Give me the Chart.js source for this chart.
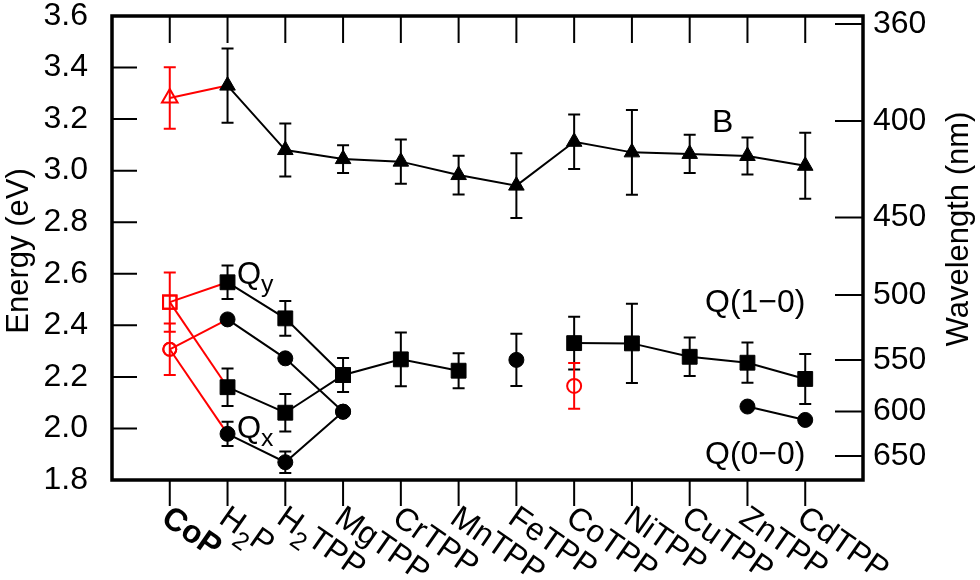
<!DOCTYPE html>
<html>
<head>
<meta charset="utf-8">
<script src="https://cdn.jsdelivr.net/npm/chart.js@4.4.1/dist/chart.umd.min.js"></script>
<style>
html,body{margin:0;padding:0;background:#fff;}
#wrap{width:980px;height:580px;}
</style>
</head>
<body>
<div id="wrap"><canvas id="chart"></canvas></div>
<script>
// categories along x ("_" marks a subscript)
const categories=["CoP","H_2P","H_2TPP","MgTPP","CrTPP","MnTPP","FeTPP","CoTPP","NiTPP","CuTPP","ZnTPP","CdTPP"];

// B band (triangles)
const bBand=[null,3.33,3.08,3.045,3.035,2.983,2.942,3.112,3.071,3.065,3.057,3.019];
const bErr =[null,0.144,0.103,0.054,0.086,0.075,0.126,0.106,0.164,0.074,0.072,0.128];

// Qy(1-0) / Q(1-0) squares
const qy10   =[null,2.567,2.427,2.207,2.268,2.224,null,2.331,2.330,2.278,2.255,2.192];
const qy10Err=[null,0.065,0.067,0.066,0.104,0.068,null,0.102,0.154,0.075,0.078,0.097];

// Qy(0-0) / Q(0-0) circles
const qy00   =[null,2.423,2.272,2.065,null,null,2.266,null,null,null,2.085,2.033];
const qy00Err=[null,0,0,0,null,null,0.101,null,null,null,0,0];

// Qx(1-0) squares and Qx(0-0) circles (free bases)
const qx10   =[null,2.160,2.061,2.207];
const qx10Err=[null,0.073,0.073,0];
const qx00   =[null,1.979,1.869,2.065];
const qx00Err=[null,0.047,0.042,0];

// CoP (red, open): B, Q(1-0), Q(0-0)
const copLevels=[3.282,2.49,2.307];
const copErr   =[0.119,0.115,0.10];
// CoTPP extra red point
const coTppRed=[2.165];
const coTppRedErr=[0.089];

// right axis: wavelength labels and where they sit on the energy scale
const nmTicks=[360,400,450,500,550,600,650];
const nmTickEnergy=[3.569,3.193,2.818,2.518,2.266,2.066,1.893];

const RED="#ff0000";
const FONT='"Liberation Sans", Arial, Helvetica, sans-serif';

const pts=arr=>arr.map((v,i)=>({x:i,y:v}));

function series(data,style,r){
  return {data:pts(data),borderColor:"#000",borderWidth:2,pointStyle:style,pointRadius:r,
    pointBackgroundColor:"#000",pointBorderColor:"#000",pointBorderWidth:1,spanGaps:false};
}
function redLink(idx,target,style,r){
  return {data:[{x:0,y:copLevels[idx]},{x:1,y:target}],borderColor:RED,borderWidth:2,
    pointStyle:style,pointRadius:[r,0],pointBackgroundColor:"rgba(0,0,0,0)",
    pointBorderColor:RED,pointBorderWidth:2};
}

const errSets=[
  {vals:bBand,errs:bErr,color:"#000"},
  {vals:qy10,errs:qy10Err,color:"#000"},
  {vals:qy00,errs:qy00Err,color:"#000"},
  {vals:qx10,errs:qx10Err,color:"#000"},
  {vals:qx00,errs:qx00Err,color:"#000"},
  {vals:copLevels,errs:copErr,color:RED,x:[0,0,0]},
  {vals:coTppRed,errs:coTppRedErr,color:RED,x:[7]}
];

function parseRich(s){
  const out=[];const re=/_(.)/g;let last=0,m;
  while((m=re.exec(s))){
    if(m.index>last) out.push({t:s.slice(last,m.index)});
    out.push({t:m[1],sub:true});last=re.lastIndex;
  }
  if(last<s.length) out.push({t:s.slice(last)});
  return out;
}
function drawRich(ctx,s,x,y,size,weight,subScale,subDy){
  let cx=x;
  parseRich(s).forEach(p=>{
    const sz=p.sub?size*subScale:size;
    ctx.font=(weight||"normal")+" "+sz+"px "+FONT;
    ctx.fillText(p.t,cx,y+(p.sub?size*subDy:0));
    cx+=ctx.measureText(p.t).width;
  });
}

const errorBars={
  id:"errorBars",
  beforeDatasetsDraw(chart){
    const ctx=chart.ctx,xs=chart.scales.x,ys=chart.scales.y;
    ctx.save();ctx.lineWidth=2;
    errSets.forEach(set=>{
      ctx.strokeStyle=set.color;
      set.vals.forEach((v,i)=>{
        const e=set.errs[i];
        if(v==null||!e) return;
        const px=xs.getPixelForValue(set.x?set.x[i]:i);
        const t=ys.getPixelForValue(v+e),b=ys.getPixelForValue(v-e);
        ctx.beginPath();
        ctx.moveTo(px,t);ctx.lineTo(px,b);
        ctx.moveTo(px-6,t);ctx.lineTo(px+6,t);
        ctx.moveTo(px-6,b);ctx.lineTo(px+6,b);
        ctx.stroke();
      });
    });
    ctx.restore();
  }
};

const frame={
  id:"frame",
  afterDraw(chart){
    const ctx=chart.ctx,a=chart.chartArea;
    const xs=chart.scales.x,ys=chart.scales.y,y2=chart.scales.y2;
    ctx.save();
    ctx.strokeStyle="#000";ctx.fillStyle="#000";
    // inward / outward ticks
    ctx.lineWidth=2;ctx.beginPath();
    categories.forEach((c,i)=>{
      const px=xs.getPixelForValue(i);
      ctx.moveTo(px,a.top);ctx.lineTo(px,a.top+27);
      ctx.moveTo(px,a.bottom);ctx.lineTo(px,a.bottom+26);
    });
    ys.ticks.forEach(t=>{const py=ys.getPixelForValue(t.value);ctx.moveTo(a.left,py);ctx.lineTo(a.left+25,py);});
    y2.ticks.forEach(t=>{const py=y2.getPixelForValue(t.value);ctx.moveTo(a.right-28,py);ctx.lineTo(a.right,py);});
    ctx.stroke();
    // box
    ctx.lineWidth=3.5;
    ctx.strokeRect(a.left,a.top,a.right-a.left,a.bottom-a.top);

    // x category labels, rotated clockwise
    ctx.textAlign="left";ctx.textBaseline="alphabetic";
    categories.forEach((c,i)=>{
      const px=xs.getPixelForValue(i);
      ctx.save();
      ctx.translate(px-10,a.bottom+42);
      ctx.rotate(35*Math.PI/180);
      drawRich(ctx,c,0,0,32,i===0?"bold":"normal",0.78,0.32);
      ctx.restore();
    });

    // axis titles
    ctx.font="31px "+FONT;ctx.textAlign="center";ctx.textBaseline="middle";
    ctx.save();ctx.translate(19,251);ctx.rotate(-Math.PI/2);ctx.fillText("Energy (eV)",0,0);ctx.restore();
    ctx.save();ctx.translate(959,229);ctx.rotate(-Math.PI/2);ctx.fillText("Wavelength (nm)",0,0);ctx.restore();

    // band annotations
    ctx.textAlign="left";ctx.textBaseline="alphabetic";
    ctx.font="32px "+FONT;
    ctx.fillText("B",712,132);
    ctx.fillText("Q(1\u22120)",705,312);
    ctx.fillText("Q(0\u22120)",705,464);
    drawRich(ctx,"Q_y",237,284,31,"normal",0.8,0.25);
    drawRich(ctx,"Q_x",237,438,31,"normal",0.8,0.25);
    ctx.restore();
  }
};

const tickFont={size:32,family:FONT};
const noPad=s=>{s.paddingTop=0;s.paddingBottom=0;s.paddingLeft=0;s.paddingRight=0;};

new Chart(document.getElementById("chart"),{
  type:"line",
  data:{datasets:[
    series(bBand,"triangle",9),
    series(qy10,"rect",10.5),
    series(qy00,"circle",7.5),
    series(qx10,"rect",10.5),
    series(qx00,"circle",7.5),
    redLink(0,bBand[1],"triangle",9),
    redLink(1,qy10[1],"rect",9.5),
    redLink(1,qx10[1],"rect",9.5),
    redLink(2,qy00[1],"circle",6.5),
    redLink(2,qx00[1],"circle",6.5),
    {data:[{x:7,y:coTppRed[0]}],showLine:false,pointStyle:"circle",pointRadius:7,
     pointBackgroundColor:"rgba(0,0,0,0)",pointBorderColor:RED,pointBorderWidth:2}
  ]},
  options:{
    responsive:true,maintainAspectRatio:false,animation:false,
    layout:{padding:{top:16,left:0,right:0,bottom:0}},
    plugins:{legend:{display:false},tooltip:{enabled:false}},
    scales:{
      x:{type:"linear",min:-1,max:12,
        grid:{display:false,drawTicks:false},border:{display:false},
        ticks:{display:false},
        afterBuildTicks(s){s.ticks=categories.map((c,i)=>({value:i}));},
        afterFit(s){s.height=100;noPad(s);}},
      y:{type:"linear",position:"left",min:1.8,max:3.6,
        grid:{display:false,drawTicks:false},border:{display:false},
        ticks:{stepSize:0.2,autoSkip:false,padding:24,color:"#000",font:tickFont,
          callback:v=>Number(v).toFixed(1)},
        afterFit(s){s.width=112;noPad(s);}},
      y2:{type:"linear",position:"right",min:1.8,max:3.6,
        grid:{display:false,drawTicks:false},border:{display:false},
        afterBuildTicks(s){s.ticks=nmTickEnergy.map(v=>({value:v}));},
        ticks:{autoSkip:false,padding:10,color:"#000",font:tickFont,
          callback:(v,i)=>nmTicks[i]},
        afterFit(s){s.width=117;noPad(s);}}
    }
  },
  plugins:[errorBars,frame]
});
</script>
</body>
</html>
